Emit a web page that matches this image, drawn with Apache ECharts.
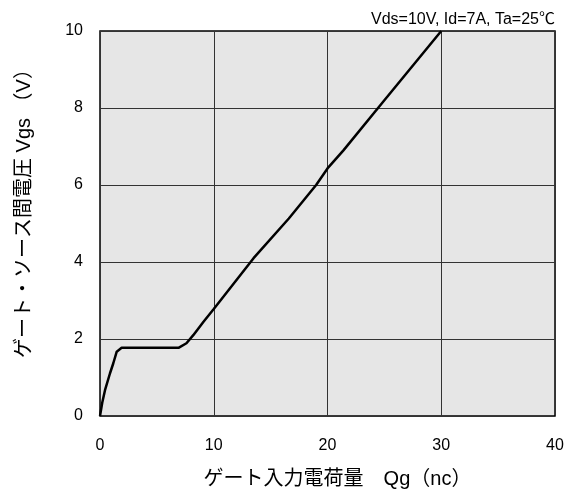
<!DOCTYPE html>
<html>
<head>
<meta charset="utf-8">
<script src="https://cdn.jsdelivr.net/npm/echarts@6/dist/echarts.min.js"></script>
<style>
html, body { margin: 0; padding: 0; background: #fff; }
#chart { width: 568px; height: 495px; }
</style>
</head>
<body>
<div id="chart"></div>
<script>
// Gate charge curve: Qg (nC) vs Vgs (V)
const qg  = [0, 0.2, 0.44, 0.88, 1.17, 1.47, 1.9, 3, 5, 6.9, 7.6, 8.2, 9.1, 10, 13.5, 16.6, 19, 20, 21.4, 25, 30];
const vgs = [0, 0.35, 0.67, 1.11, 1.37, 1.67, 1.77, 1.77, 1.77, 1.77, 1.89, 2.1, 2.45, 2.78, 4.1, 5.13, 6.0, 6.43, 6.9, 8.2, 10];
const xTicks = [0, 10, 20, 30, 40];
const yTicks = [0, 2, 4, 6, 8, 10];
const condition = 'Vds=10V, Id=7A, Ta=25℃';

const chart = echarts.init(document.getElementById('chart'));
const font = '"Liberation Sans", Arial, "Noto Sans CJK JP", sans-serif';
chart.setOption({
  animation: false,
  title: {
    text: condition,
    right: 8, top: 7,
    textStyle: { fontSize: 16, fontWeight: 'normal', color: '#000', fontFamily: font }
  },
  grid: {
    left: 100, right: 13, top: 31, bottom: 79,
    show: true, backgroundColor: '#e6e6e6', borderColor: '#000', borderWidth: 1.5
  },
  xAxis: {
    type: 'value', min: xTicks[0], max: xTicks[xTicks.length - 1], interval: 10,
    name: 'ゲート入力電荷量　Qg（nc）', nameLocation: 'middle', nameGap: 53,
    nameTextStyle: { fontSize: 20, color: '#000', fontFamily: font, padding: [0, 0, 0, 20] },
    axisLine: { show: false }, axisTick: { show: false },
    axisLabel: { fontSize: 16, color: '#000', margin: 22, fontFamily: font },
    splitLine: { show: true, lineStyle: { color: '#333', width: 1 } }
  },
  yAxis: {
    type: 'value', min: yTicks[0], max: yTicks[yTicks.length - 1], interval: 2,
    name: 'ゲート・ソース間電圧 Vgs （V）', nameLocation: 'middle', nameGap: 66, nameRotate: 90,
    nameTextStyle: { fontSize: 20, color: '#000', fontFamily: font, padding: [0, 0, 0, 30] },
    axisLine: { show: false }, axisTick: { show: false },
    axisLabel: { fontSize: 16, color: '#000', margin: 17, fontFamily: font },
    splitLine: { show: true, lineStyle: { color: '#333', width: 1 } }
  },
  series: [{
    type: 'line',
    data: qg.map((q, i) => [q, vgs[i]]),
    showSymbol: false,
    lineStyle: { color: '#000', width: 2.5 },
    clip: false
  }]
});
</script>
</body>
</html>
